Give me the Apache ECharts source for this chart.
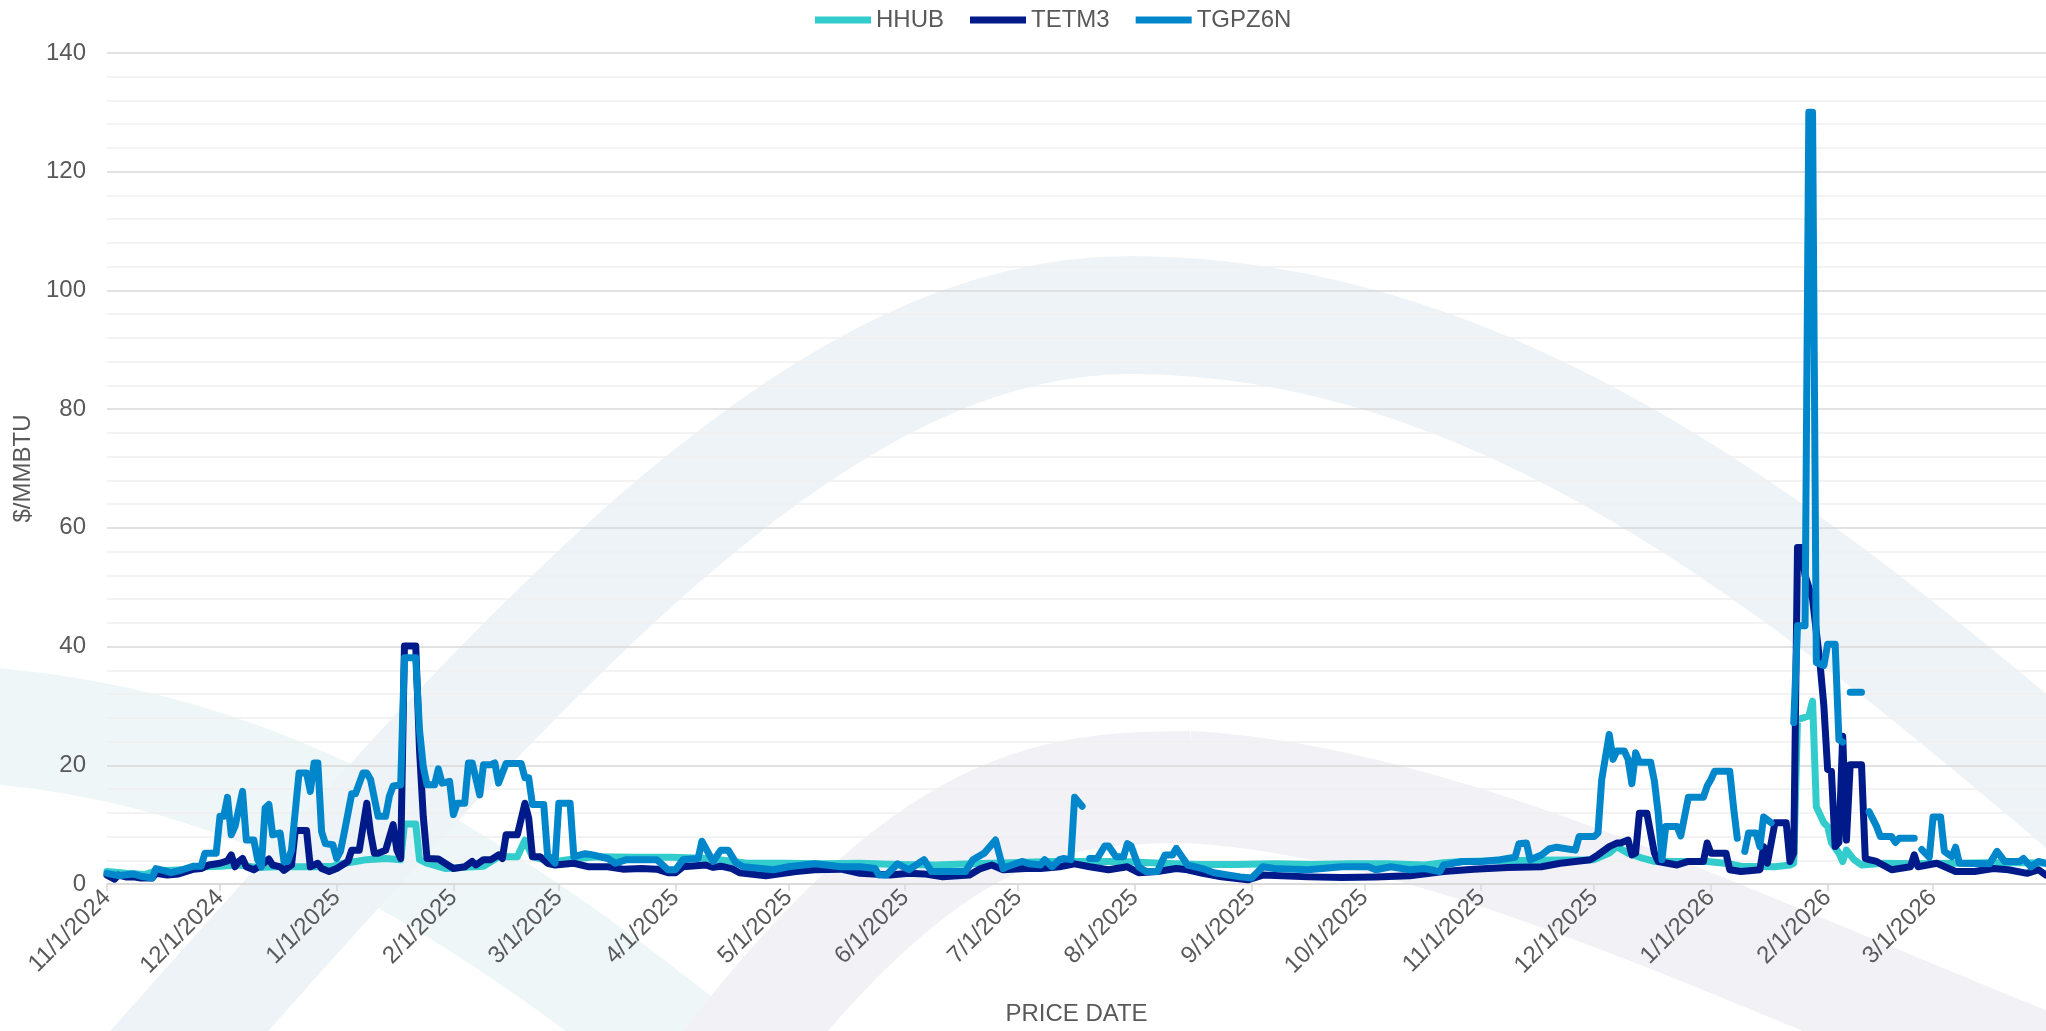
<!DOCTYPE html>
<html>
<head>
<meta charset="utf-8">
<script src="https://cdn.jsdelivr.net/npm/echarts@6/dist/echarts.min.js"></script>
<style>
html,body{margin:0;padding:0;background:#ffffff;}
#chart{width:2046px;height:1031px;}
</style>
</head>
<body>
<div id="chart"></div>
<script>
// ---------------- DATA ----------------
const seriesNames = ['HHUB', 'TETM3', 'TGPZ6N'];
const seriesColors = ['#33CCCC', '#001A8A', '#0087CB'];
const firstDay = '2024-11-01';
const lastDay = '2026-03-31';
const yTickValues = [0, 20, 40, 60, 80, 100, 120, 140];

const hhubDates = ['2024-11-01','2024-11-06','2024-11-11','2024-11-14','2024-11-21','2024-11-26','2024-12-01','2024-12-06','2024-12-11','2024-12-16','2024-12-21','2024-12-26','2024-12-31',
'2025-01-03','2025-01-06','2025-01-09','2025-01-14','2025-01-18','2025-01-19','2025-01-22','2025-01-23','2025-01-25','2025-01-30','2025-02-04','2025-02-09','2025-02-13','2025-02-18','2025-02-20','2025-02-22','2025-02-25','2025-02-28',
'2025-03-06','2025-03-11','2025-03-21','2025-03-31','2025-04-10','2025-04-20','2025-04-30','2025-05-10','2025-05-20','2025-05-30','2025-06-09','2025-06-19','2025-06-29','2025-07-09','2025-07-19','2025-07-29','2025-08-08','2025-08-18','2025-08-28','2025-09-07','2025-09-17','2025-09-27','2025-10-07','2025-10-17','2025-10-22','2025-10-27','2025-11-06','2025-11-16',
'2025-12-01','2025-12-05','2025-12-07','2025-12-10','2025-12-14','2025-12-17','2025-12-31','2026-01-06','2026-01-09','2026-01-18','2026-01-22','2026-01-23','2026-01-24','2026-01-27','2026-01-28','2026-01-29','2026-01-31','2026-02-01','2026-02-02','2026-02-04','2026-02-05','2026-02-06','2026-02-08','2026-02-10','2026-02-16','2026-02-24','2026-03-06','2026-03-16','2026-03-26','2026-03-31'];
const hhubValues = [2.1,1.8,1.6,2.2,2.4,2.9,3.0,3.2,2.8,2.9,2.9,2.9,3.0,
3.5,3.8,4.1,4.3,4.1,10.1,10.1,4.1,3.5,2.6,2.8,3.0,4.6,4.6,7.4,4.6,4.1,3.8,
4.3,4.6,4.5,4.5,4.3,3.5,3.5,3.4,3.5,3.3,3.2,3.4,3.6,3.8,3.8,3.8,3.5,3.3,3.3,3.4,3.3,3.4,3.4,3.2,3.6,3.8,3.9,4.0,
4.1,5.2,6.3,5.2,4.3,3.8,3.8,3.4,3.0,2.9,3.2,3.5,27.7,28.3,30.8,13.0,10.3,9.7,7.0,5.2,3.8,5.7,4.1,3.2,3.5,3.4,3.5,3.6,3.6,3.5];

const tetm3Dates = ['2024-11-01','2024-11-03','2024-11-04','2024-11-06','2024-11-08','2024-11-10','2024-11-13','2024-11-14','2024-11-17','2024-11-20','2024-11-24','2024-11-26','2024-11-28',
'2024-12-01','2024-12-03','2024-12-04','2024-12-05','2024-12-06','2024-12-07','2024-12-08','2024-12-10','2024-12-12','2024-12-14','2024-12-15','2024-12-17','2024-12-18','2024-12-20','2024-12-21','2024-12-24','2024-12-25','2024-12-27','2024-12-28','2024-12-30',
'2025-01-01','2025-01-04','2025-01-05','2025-01-07','2025-01-09','2025-01-10','2025-01-11','2025-01-12','2025-01-14','2025-01-16','2025-01-17','2025-01-18','2025-01-19','2025-01-22','2025-01-23','2025-01-24','2025-01-25','2025-01-28',
'2025-02-01','2025-02-04','2025-02-06','2025-02-07','2025-02-09','2025-02-11','2025-02-13','2025-02-14','2025-02-15','2025-02-18','2025-02-20','2025-02-21','2025-02-22','2025-02-24','2025-02-26','2025-02-28',
'2025-03-05','2025-03-09','2025-03-14','2025-03-18','2025-03-23','2025-03-27','2025-03-30','2025-04-01','2025-04-03','2025-04-09','2025-04-11','2025-04-13','2025-04-16','2025-04-18','2025-04-25','2025-05-03','2025-05-08','2025-05-15','2025-05-20','2025-05-28',
'2025-06-02','2025-06-06','2025-06-11','2025-06-18','2025-06-21','2025-06-24','2025-06-27','2025-07-03','2025-07-07','2025-07-12','2025-07-16','2025-07-20','2025-07-25','2025-07-30','2025-08-02','2025-08-07','2025-08-12','2025-08-15','2025-08-19','2025-08-24','2025-08-31',
'2025-09-04','2025-09-16','2025-09-25','2025-10-04','2025-10-13','2025-10-22','2025-10-30','2025-11-08','2025-11-17','2025-11-22','2025-11-26','2025-11-30',
'2025-12-02','2025-12-05','2025-12-07','2025-12-08','2025-12-10','2025-12-11','2025-12-12','2025-12-13','2025-12-15','2025-12-17','2025-12-18','2025-12-23','2025-12-26','2025-12-30','2025-12-31',
'2026-01-01','2026-01-05','2026-01-06','2026-01-09','2026-01-14','2026-01-15','2026-01-16','2026-01-18','2026-01-21','2026-01-22','2026-01-23','2026-01-24','2026-01-25','2026-01-26','2026-01-28','2026-01-30','2026-01-31',
'2026-02-01','2026-02-02','2026-02-03','2026-02-04','2026-02-05','2026-02-06','2026-02-07','2026-02-10','2026-02-11','2026-02-12','2026-02-14','2026-02-18','2026-02-23','2026-02-24','2026-02-25',
'2026-03-02','2026-03-07','2026-03-12','2026-03-17','2026-03-21','2026-03-26','2026-03-29','2026-03-31'];
const tetm3Values = [1.5,0.8,1.5,1.2,1.2,1.0,1.0,1.8,1.5,1.7,2.5,2.6,3.2,
3.5,3.9,4.9,2.9,3.8,4.3,2.9,2.4,3.2,4.2,3.2,2.9,2.3,3.2,9.0,9.0,2.9,3.5,2.6,2.1,
2.6,3.8,5.7,5.7,13.6,8.6,5.2,5.2,5.7,10.0,5.7,4.3,40.1,40.1,22.6,11.4,4.3,4.2,
2.6,2.9,3.8,3.2,4.1,4.1,4.9,4.3,8.3,8.3,13.6,11.1,4.6,4.6,3.5,3.2,
3.5,2.9,2.9,2.5,2.6,2.5,1.9,1.9,2.9,3.2,2.8,3.0,2.6,1.9,1.4,2.1,2.4,2.5,1.8,1.5,
1.8,1.7,1.2,1.5,2.6,3.2,2.4,2.6,2.6,2.9,3.4,2.9,2.4,2.9,1.9,2.1,2.6,2.4,1.8,1.2,0.7,
1.5,1.2,1.1,1.2,1.4,2.1,2.5,2.8,2.9,3.5,3.8,4.1,
4.9,6.3,6.9,6.9,7.4,4.9,5.2,11.9,11.9,5.2,3.8,3.2,3.8,3.8,6.9,
5.2,5.2,2.4,2.1,2.4,6.3,3.5,10.3,10.3,3.8,5.2,56.7,56.7,52,48,37,30,
19.3,19,6.3,7,24.9,7.4,20.1,20.1,4.3,4.1,3.8,2.4,2.9,4.9,2.9,
3.5,2.1,2.1,2.6,2.4,1.8,2.4,1.5];

const tgpz6nDates = ['2024-11-01','2024-11-04','2024-11-08','2024-11-10','2024-11-13','2024-11-14','2024-11-16','2024-11-18','2024-11-21','2024-11-24','2024-11-26','2024-11-27','2024-11-30',
'2024-12-01','2024-12-02','2024-12-03','2024-12-04','2024-12-05','2024-12-07','2024-12-08','2024-12-10','2024-12-11','2024-12-12','2024-12-13','2024-12-14','2024-12-15','2024-12-17','2024-12-18','2024-12-19','2024-12-20','2024-12-22','2024-12-24','2024-12-25','2024-12-26','2024-12-27','2024-12-28','2024-12-29','2024-12-31',
'2025-01-01','2025-01-02','2025-01-03','2025-01-05','2025-01-06','2025-01-08','2025-01-09','2025-01-10','2025-01-12','2025-01-14','2025-01-15','2025-01-16','2025-01-18','2025-01-19','2025-01-22','2025-01-23','2025-01-24','2025-01-25','2025-01-27','2025-01-28','2025-01-29','2025-01-31',
'2025-02-01','2025-02-02','2025-02-04','2025-02-05','2025-02-06','2025-02-08','2025-02-09','2025-02-11','2025-02-12','2025-02-13','2025-02-15','2025-02-19','2025-02-20','2025-02-21','2025-02-22','2025-02-25','2025-02-26','2025-02-28',
'2025-03-01','2025-03-04','2025-03-05','2025-03-08','2025-03-10','2025-03-14','2025-03-16','2025-03-19','2025-03-27','2025-03-30','2025-04-01','2025-04-03','2025-04-07','2025-04-08','2025-04-10','2025-04-11','2025-04-13','2025-04-15','2025-04-17','2025-04-19','2025-04-27',
'2025-05-01','2025-05-08','2025-05-15','2025-05-20','2025-05-24','2025-05-25','2025-05-27','2025-05-30','2025-06-02','2025-06-06','2025-06-08','2025-06-17','2025-06-19','2025-06-22','2025-06-25','2025-06-27','2025-06-28',
'2025-07-02','2025-07-04','2025-07-07','2025-07-08','2025-07-10','2025-07-12','2025-07-13','2025-07-15','2025-07-16','2025-07-18','2025-07-19','2025-07-20','2025-07-22','2025-07-24','2025-07-25','2025-07-27','2025-07-29','2025-07-30','2025-07-31',
'2025-08-02','2025-08-04','2025-08-07','2025-08-09','2025-08-11','2025-08-12','2025-08-15','2025-08-19','2025-08-22','2025-08-26','2025-08-29','2025-09-01','2025-09-04','2025-09-07','2025-09-16','2025-09-25',
'2025-10-02','2025-10-04','2025-10-08','2025-10-13','2025-10-17','2025-10-21','2025-10-22','2025-10-27','2025-11-01','2025-11-06','2025-11-10','2025-11-11','2025-11-13','2025-11-14','2025-11-17','2025-11-19','2025-11-21','2025-11-26','2025-11-27',
'2025-12-01','2025-12-02','2025-12-03','2025-12-05','2025-12-06','2025-12-07','2025-12-09','2025-12-10','2025-12-11','2025-12-12','2025-12-13','2025-12-16','2025-12-17','2025-12-18','2025-12-19','2025-12-20','2025-12-23','2025-12-24','2025-12-26','2025-12-30','2025-12-31',
'2026-01-01','2026-01-02','2026-01-06','2026-01-07','2026-01-08','2026-01-09','2026-01-10','2026-01-11','2026-01-13','2026-01-14','2026-01-15','2026-01-17','2026-01-18','2026-01-23','2026-01-24','2026-01-26','2026-01-27','2026-01-28','2026-01-29','2026-01-31',
'2026-02-01','2026-02-03','2026-02-04','2026-02-05','2026-02-06','2026-02-07','2026-02-10','2026-02-11','2026-02-12','2026-02-14','2026-02-15','2026-02-18','2026-02-19','2026-02-20','2026-02-24','2026-02-25','2026-02-26','2026-02-28',
'2026-03-01','2026-03-03','2026-03-04','2026-03-06','2026-03-07','2026-03-08','2026-03-16','2026-03-18','2026-03-20','2026-03-24','2026-03-25','2026-03-27','2026-03-29','2026-03-31'];
const tgpz6nValues = [1.8,1.4,1.7,1.3,1.0,2.6,2.3,1.9,2.4,3.0,3.0,5.2,5.2,
11.4,11.4,14.6,8.3,9.7,15.6,7.4,7.4,4.1,2.9,12.8,13.4,8.3,8.6,3.8,3.8,5.7,18.7,18.7,15.6,20.4,20.4,8.8,6.8,6.6,
4.3,5.5,8.6,15.2,15.2,18.7,18.7,17.6,11.4,11.4,14.8,16.5,16.7,38.1,38.1,26,19.8,16.7,16.7,19.4,17,17.3,
11.7,13.6,13.6,20.4,20.4,15,20.1,20.1,20.4,17,20.3,20.3,17.9,17.9,13.4,13.4,4.9,3.5,
13.6,13.6,4.6,5.1,4.9,4.3,3.5,4.1,4.1,2.4,2.4,4.1,4.3,7.2,4.9,3.8,5.7,5.7,3.6,2.9,2.4,
2.9,3.4,2.9,2.9,2.6,1.5,1.5,3.4,2.4,4.1,2.1,2.1,4.1,5.2,7.4,2.6,2.9,
3.8,3.4,3.2,4.1,2.9,4.1,4.3,4.1,14.6,13.1,null,4.3,4.3,6.4,6.4,4.6,4.6,6.8,6.4,
2.9,2.1,2.1,4.9,4.9,6.0,3.2,2.6,1.9,1.5,1.2,1.0,2.9,2.6,2.4,2.9,
2.9,2.4,2.9,2.4,2.6,2.1,3.2,3.8,3.8,4.1,4.5,6.8,6.9,4.1,4.9,5.9,6.2,5.7,8.0,
8.0,8.6,17.6,25.2,21,22.4,22.4,21,16.9,22.1,20.5,20.5,17.3,11.9,4.1,9.7,9.7,8.1,14.6,14.6,16.5,
17.6,19,19,13,7.7,null,5.5,8.6,8.6,6.3,11.3,10.3,null,27.2,43.5,43.5,130,130,37.3,36.8,
40.4,40.4,24.3,23.9,null,32.3,32.3,null,12.2,9.7,8.0,8.0,7.0,7.7,7.7,null,5.8,4.5,
11.3,11.3,5.5,4.6,6.2,3.5,3.4,5.5,3.8,3.8,4.3,2.9,3.8,3.5];

// ---------------- BUILD ----------------
function buildDays(start, end) {
  const out = [];
  const s = Date.parse(start + 'T00:00:00Z');
  const e = Date.parse(end + 'T00:00:00Z');
  for (let t = s; t <= e; t += 86400000) out.push(new Date(t).toISOString().slice(0, 10));
  return out;
}
const categories = buildDays(firstDay, lastDay);
function pairs(dates, values) {
  return dates.map((d, i) => [d, values[i] === null ? '-' : values[i]]);
}
function isMonthStart(idx, val) { return String(val).slice(8) === '01'; }
function fmtDate(v) {
  const p = String(v).split('-');
  return (+p[1]) + '/' + (+p[2]) + '/' + p[0];
}
const FONT = "'Liberation Sans', Arial, sans-serif";
const TXT = '#595959';
const FS = 24;
const LW = 7;

const chart = echarts.init(document.getElementById('chart'), null, {renderer: 'canvas'});
const dataSets = [pairs(hhubDates, hhubValues), pairs(tetm3Dates, tetm3Values), pairs(tgpz6nDates, tgpz6nValues)];

chart.setOption({
  animation: false,
  backgroundColor: '#ffffff',
  textStyle: {fontFamily: FONT},
  graphic: {
    elements: [
      {type: 'bezierCurve', z: -20, silent: true,
        shape: {x1: -80, y1: 722, cpx1: 250, cpy1: 728, cpx2: 480, cpy2: 880, x2: 760, y2: 1110},
        style: {stroke: '#eff6f7', lineWidth: 116, fill: null}},
      {type: 'bezierCurve', z: -19, silent: true,
        shape: {x1: 150, y1: 1075, cpx1: 520, cpy1: 660, cpx2: 810, cpy2: 315, x2: 1130, y2: 315},
        style: {stroke: '#eef3f7', lineWidth: 118, fill: null}},
      {type: 'bezierCurve', z: -19, silent: true,
        shape: {x1: 1128, y1: 315, cpx1: 1500, cpy1: 315, cpx2: 1800, cpy2: 560, x2: 2110, y2: 825},
        style: {stroke: '#eef3f7', lineWidth: 118, fill: null}},
      {type: 'bezierCurve', z: -18, silent: true,
        shape: {x1: 720, y1: 1075, cpx1: 930, cpy1: 800, cpx2: 1050, cpy2: 787, x2: 1190, y2: 787},
        style: {stroke: '#f2f2f6', lineWidth: 112, fill: null}},
      {type: 'bezierCurve', z: -18, silent: true,
        shape: {x1: 1188, y1: 787, cpx1: 1450, cpy1: 800, cpx2: 1760, cpy2: 960, x2: 2120, y2: 1100},
        style: {stroke: '#f2f2f6', lineWidth: 112, fill: null}}
    ]
  },
  legend: {
    data: seriesNames,
    left: 810,
    top: 3,
    icon: 'rect',
    itemWidth: 56,
    itemHeight: 7,
    itemGap: 26,
    textStyle: {color: TXT, fontSize: FS, fontFamily: FONT}
  },
  grid: {left: 107, right: 0, top: 53, bottom: 147, containLabel: false},
  xAxis: {
    type: 'category',
    data: categories,
    boundaryGap: false,
    name: 'PRICE DATE',
    nameLocation: 'middle',
    nameGap: 118,
    nameTextStyle: {color: TXT, fontSize: FS, fontFamily: FONT},
    axisLine: {show: true, lineStyle: {color: '#d9d9d9', width: 1.5}},
    axisTick: {show: true, interval: isMonthStart, length: 7, lineStyle: {color: '#d9d9d9', width: 1.5}},
    axisLabel: {interval: isMonthStart, rotate: 45, formatter: fmtDate, color: TXT, fontSize: FS, fontFamily: FONT, margin: 10},
    splitLine: {show: false}
  },
  yAxis: {
    type: 'value',
    min: yTickValues[0],
    max: yTickValues[yTickValues.length - 1],
    interval: 20,
    name: '$/MMBTU',
    nameLocation: 'middle',
    nameGap: 70,
    nameTextStyle: {color: TXT, fontSize: FS, fontFamily: FONT},
    axisLine: {show: false},
    axisTick: {show: false},
    axisLabel: {color: TXT, fontSize: FS, fontFamily: FONT, margin: 21},
    splitLine: {show: true, lineStyle: {color: '#d9d9d9', width: 1.5}},
    minorTick: {show: false, splitNumber: 5},
    minorSplitLine: {show: true, lineStyle: {color: '#f0f0f0', width: 1.5}}
  },
  series: seriesNames.map((name, i) => ({
    name: name,
    type: 'line',
    data: dataSets[i],
    showSymbol: false,
    symbol: 'none',
    connectNulls: false,
    z: 2 + i,
    color: seriesColors[i],
    lineStyle: {width: LW, color: seriesColors[i], cap: 'round', join: 'round'},
    itemStyle: {color: seriesColors[i]},
    emphasis: {disabled: true}
  }))
});
</script>
</body>
</html>
